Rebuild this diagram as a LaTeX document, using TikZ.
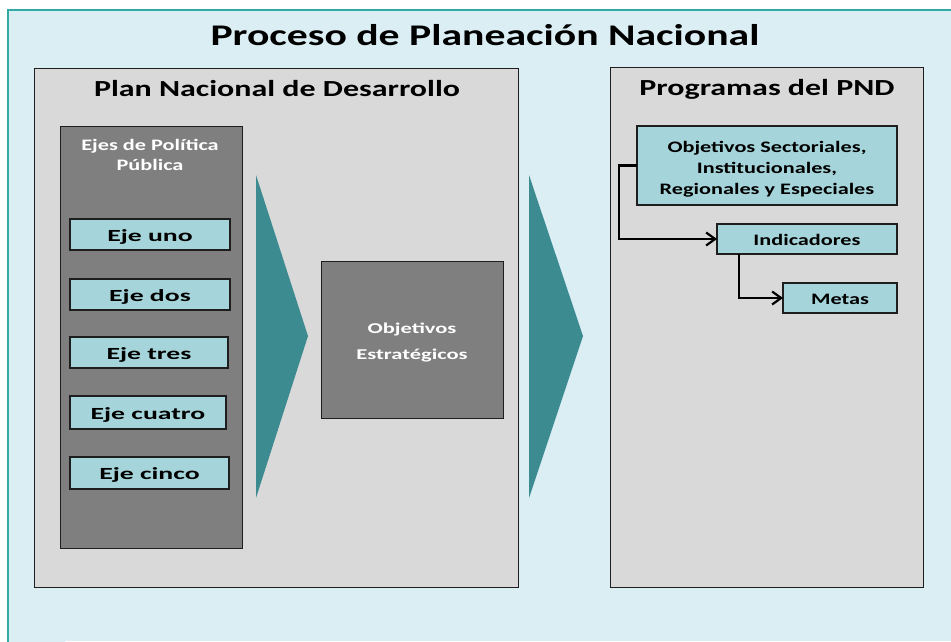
\documentclass[tikz,border=0pt]{standalone}
\usepackage{fontspec}
\setmainfont{Carlito}
\newfontfamily\widefont[FakeStretch=1.39]{Carlito}
\newfontfamily\midfont[FakeStretch=1.5]{Carlito}
\newfontfamily\ejefont[FakeStretch=1.63]{Carlito}
\usetikzlibrary{arrows.meta}
\definecolor{bgc}{HTML}{DAEEF3}
\definecolor{framec}{HTML}{33ABA5}
\definecolor{panelc}{HTML}{D9D9D9}
\definecolor{darkc}{HTML}{7F7F7F}
\definecolor{boxc}{HTML}{A5D5DA}
\definecolor{tric}{HTML}{3C8B91}
\definecolor{linec}{HTML}{1E1E1E}
\tikzset{
  panel/.style={draw=linec, line width=0.9pt, fill=panelc, anchor=north west, inner sep=0pt, outer sep=0pt},
  darkbox/.style={draw=linec, line width=0.9pt, fill=darkc, anchor=north west, inner sep=0pt, outer sep=0pt},
  ejebox/.style={draw=linec, line width=1.1pt, fill=boxc, anchor=north west, inner sep=0pt, outer sep=0pt, text height=13pt, text depth=0pt, font=\ejefont\fontsize{17}{20}\selectfont\bfseries},
  progbox/.style={ejebox, font=\widefont\fontsize{16}{21}\selectfont\bfseries},
  lbl/.style={inner sep=0pt, font=\widefont\bfseries},
  conn/.style={draw=black, line width=2.9pt, -{Straight Barb[length=9pt,width=13pt,line width=2.2pt]}},
}
\begin{document}
\begin{tikzpicture}[x=1pt,y=-1pt]
\useasboundingbox (0,0) rectangle (951,641);
\fill[white] (0,0) rectangle (951,641);
\draw[framec, line width=1.6pt, fill=bgc] (8,680) -- (8,10) -- (1000,10);
\fill[bgc] (8.8,10.8) rectangle (951,641);
\node[lbl, font=\widefont\fontsize{30}{34}\selectfont\bfseries] (title) at (485,35) {Proceso de Planeación Nacional};
% left panel
\node[panel, minimum width=484pt, minimum height=519pt] (pnd) at (34,68) {};
\node[lbl, font=\widefont\fontsize{23}{26}\selectfont\bfseries] (pndt) at (277,89) {Plan Nacional de Desarrollo};
\node[darkbox, minimum width=182pt, minimum height=422pt] (ejes) at (60,126) {};
\node[lbl, text=white, align=center, font=\widefont\fontsize{16}{20}\selectfont\bfseries] (ejest) at (150,155) {Ejes de Política\\Pública};
\node[ejebox, minimum width=160pt, minimum height=31pt] (e1) at (70,219) {Eje uno};
\node[ejebox, minimum width=160pt, minimum height=31pt] (e2) at (70,279) {Eje dos};
\node[ejebox, minimum width=158pt, minimum height=31pt] (e3) at (70,337) {Eje tres};
\node[ejebox, minimum width=156pt, minimum height=33pt] (e4) at (70,396) {Eje cuatro};
\node[ejebox, minimum width=159pt, minimum height=32pt] (e5) at (70,457) {Eje cinco};
\fill[tric] (256,175) -- (308,336) -- (256,498) -- cycle;
\node[darkbox, minimum width=182pt, minimum height=157pt] (obj) at (321,261) {};
\node[lbl, text=white, align=center, font=\midfont\fontsize{15}{26}\selectfont\bfseries] (objt) at ([yshift=-2.5pt]obj.center) {Objetivos\\Estratégicos};
\fill[tric] (529,175) -- (583,336) -- (529,498) -- cycle;
% right panel
\node[panel, minimum width=313pt, minimum height=520pt] (prog) at (610,67) {};
\node[lbl, font=\widefont\fontsize{23}{26}\selectfont\bfseries] (progt) at (767,89) {Programas del PND};
\node[progbox, minimum width=260pt, minimum height=79pt] (os) at (637,126) {};
\node[lbl, align=center, font=\widefont\fontsize{16}{21}\selectfont\bfseries] (ost) at ([yshift=-4pt]os.center) {Objetivos Sectoriales,\\Institucionales,\\Regionales y Especiales};
\node[progbox, minimum width=180pt, minimum height=30pt] (ind) at (717,224) {Indicadores};
\node[progbox, minimum width=114pt, minimum height=30pt] (met) at (783,283) {Metas};
\draw[conn] (os.west) -- ++(-18,0) |- (ind.west);
\draw[conn] ([xshift=22pt]ind.south west) |- (met.west);
\end{tikzpicture}
\end{document}
